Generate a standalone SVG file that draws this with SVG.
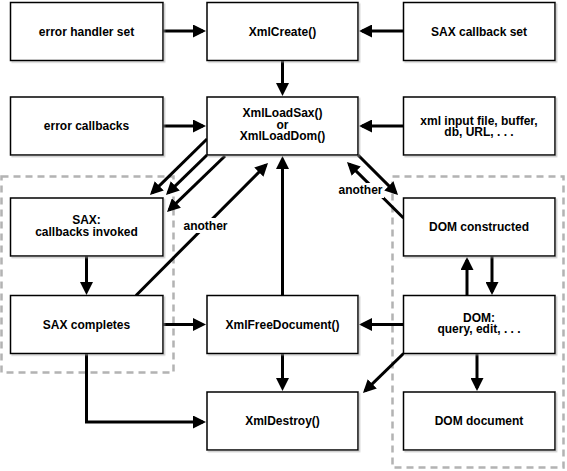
<svg xmlns="http://www.w3.org/2000/svg" width="567" height="471" viewBox="0 0 567 471">
<style>
  .box{fill:#fff;stroke:#000;stroke-width:1.5;filter:url(#sh)}
  .t{font-family:"Liberation Sans",Arial,Helvetica,sans-serif;font-size:12px;font-weight:bold;fill:#000;text-anchor:middle}
  .c{fill:none;stroke:#000;stroke-width:3;marker-end:url(#ah)}
  .grp{fill:none;stroke:#b3b3b3;stroke-width:2.5;stroke-dasharray:7 5}
  .bg{fill:#fff}
</style>
<defs>
  <marker id="ah" markerUnits="userSpaceOnUse" markerWidth="13" markerHeight="13" viewBox="0 0 13 13" refX="10" refY="6.5" orient="auto">
    <path d="M0,0 L13,6.5 L0,13 z" fill="#000"/>
  </marker>
  <filter id="sh" x="-5%" y="-5%" width="115%" height="125%">
    <feDropShadow dx="1.5" dy="1.5" stdDeviation="0.4" flood-color="#999" flood-opacity="0.5"/>
  </filter>
</defs>
<rect width="567" height="471" fill="#fff"/>
<g id="groups">
  <rect class="grp" x="1.5" y="176.5" width="172" height="196"/>
  <rect class="grp" x="392.5" y="176.5" width="171" height="291"/>
</g>
<g id="connectors">
  <path class="c" d="M163,31 H203"/>
  <path class="c" d="M403.5,31 H362"/>
  <path class="c" d="M282.5,60.5 V93"/>
  <path class="c" d="M163,126 H203"/>
  <path class="c" d="M403.5,126 H362"/>
  <path class="c" d="M207,139 L152.1,192.9"/>
  <path class="c" d="M207,155 L168.1,192.9"/>
  <path class="c" d="M225,156 L169.2,209.9"/>
  <path class="c" d="M136,295.5 L265.9,165.1"/>
  <path class="c" d="M282.5,295.5 V159"/>
  <path class="c" d="M358,155 L395.9,192.9"/>
  <path class="c" d="M403.5,218 L349.1,164.1"/>
  <path class="c" d="M86.5,256 V292"/>
  <path class="c" d="M163,324.5 H203"/>
  <path class="c" d="M403.5,324.5 H362"/>
  <path class="c" d="M282.5,353.5 V388"/>
  <path class="c" d="M86.5,353.5 V422 H203"/>
  <path class="c" d="M403.5,353.5 L365.1,390.9"/>
  <path class="c" d="M492,256 V292"/>
  <path class="c" d="M467,296 V260"/>
  <path class="c" d="M477,353.5 V388"/>
  <g id="labels">
    <rect class="bg" x="182" y="218" width="47" height="15"/>
    <text class="t" x="205.5" y="229.5">another</text>
    <rect class="bg" x="337" y="183" width="47" height="15"/>
    <text class="t" x="360.5" y="194">another</text>
  </g>
</g>
<g id="n1"><rect class="box" x="10.5" y="2.5" width="152.5" height="58"/><text class="t" x="86.5" y="35.5">error handler set</text></g>
<g id="n2"><rect class="box" x="207" y="2.5" width="151" height="58"/><text class="t" x="282.5" y="35.5">XmlCreate()</text></g>
<g id="n3"><rect class="box" x="403.5" y="2.5" width="151.5" height="58"/><text class="t" x="479" y="35.5">SAX callback set</text></g>
<g id="n4"><rect class="box" x="10.5" y="97" width="152.5" height="58"/><text class="t" x="86.5" y="130">error callbacks</text></g>
<g id="n5"><rect class="box" x="207" y="97" width="151" height="58"/><text class="t" x="282.5" y="117">XmlLoadSax()</text><text class="t" x="282.5" y="128.5">or</text><text class="t" x="282.5" y="140">XmlLoadDom()</text></g>
<g id="n6"><rect class="box" x="403.5" y="97" width="151.5" height="58"/><text class="t" x="479" y="124.5">xml input file, buffer,</text><text class="t" x="479" y="136">db, URL, . . .</text></g>
<g id="n7"><rect class="box" x="10.5" y="198" width="152.5" height="58"/><text class="t" x="86.5" y="224">SAX:</text><text class="t" x="86.5" y="235.5">callbacks invoked</text></g>
<g id="n8"><rect class="box" x="403.5" y="198" width="151.5" height="58"/><text class="t" x="479" y="231">DOM constructed</text></g>
<g id="n9"><rect class="box" x="10.5" y="295.5" width="152.5" height="58"/><text class="t" x="86.5" y="328.5">SAX completes</text></g>
<g id="n10"><rect class="box" x="207" y="295.5" width="151" height="58"/><text class="t" x="282.5" y="328.5">XmlFreeDocument()</text></g>
<g id="n11"><rect class="box" x="403.5" y="295.5" width="151.5" height="58"/><text class="t" x="479" y="321.5">DOM:</text><text class="t" x="479" y="333">query, edit, . . .</text></g>
<g id="n12"><rect class="box" x="207" y="392" width="151" height="58"/><text class="t" x="282.5" y="425">XmlDestroy()</text></g>
<g id="n13"><rect class="box" x="403.5" y="392" width="151.5" height="58"/><text class="t" x="479" y="425">DOM document</text></g>
</svg>
